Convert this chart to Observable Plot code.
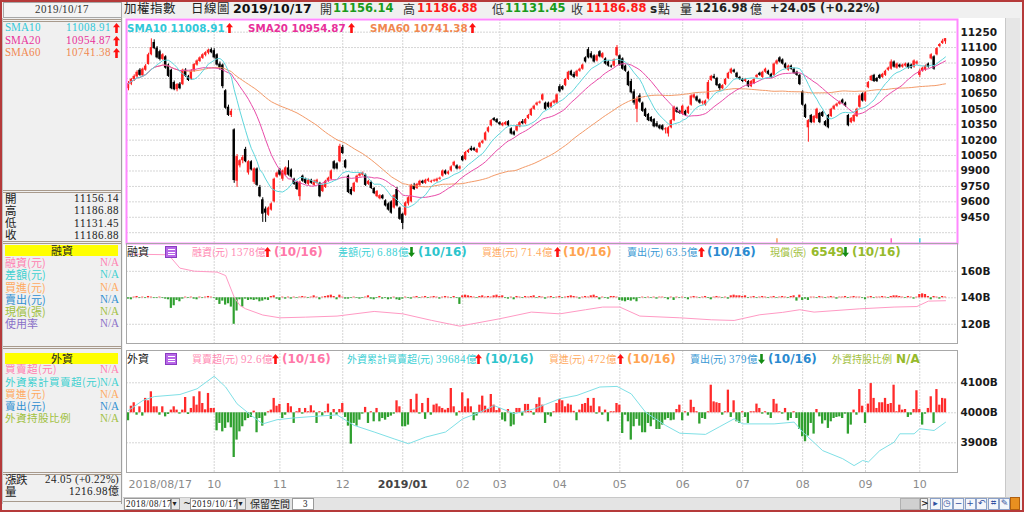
<!DOCTYPE html>
<html><head><meta charset="utf-8">
<script src="https://cdn.jsdelivr.net/npm/d3@7"></script>
<script src="https://cdn.jsdelivr.net/npm/@observablehq/plot@0.6"></script>
<style>
@font-face{font-family:"CJKT";src:local("Noto Sans CJK TC Regular"),local("NotoSansCJKtc-Regular"),local("Noto Sans CJK TC"),local("Noto Sans CJK SC Regular"),local("NotoSansCJKsc-Regular");ascent-override:88%;descent-override:12%;line-gap-override:0%;}
@font-face{font-family:"SERT";src:local("Liberation Serif"),local("LiberationSerif");ascent-override:86%;descent-override:14%;line-gap-override:0%;}
html,body{margin:0;padding:0;background:#f0f0f0;}
#app{position:relative;width:1024px;height:512px;overflow:hidden;background:#f0f0f0;font-family:"DejaVu Sans",sans-serif;}
.t{position:absolute;white-space:nowrap;line-height:1;}
.b{position:absolute;box-sizing:border-box;}
svg{overflow:visible;}
</style></head><body><div id="app"></div><script>
// ---------------- DATA ----------------
// daily candles [open, high, low, close], TAIEX 2018/08/17 - 2019/10/17, grouped by month
const c2018_08_09 = [[10700,10770,10680,10750],[10745,10800,10730,10790],[10790,10835,10770,10820],[10815,10875,10800,10860],[10880,10895,10820,10830],
[10825,10900,10810,10890],[10880,10935,10870,10920],[10935,11045,10930,11030],[11030,11185,11020,11100],[11150,11175,11080,11090],
[11095,11110,10990,11000],[11060,11075,10970,10985],[10985,11040,10975,11030],[11010,11020,10890,10900],[10930,10940,10810,10820],
[10880,10890,10690,10700],[10760,10775,10680,10690],[10690,10750,10670,10740],[10745,10760,10690,10700],[10740,10890,10730,10880],
[10880,10895,10810,10820],[10820,10830,10770,10780],[10790,10885,10780,10870],[10870,10945,10860,10935],[10930,10980,10920,10970],
[10965,11010,10955,11000],[10995,11040,10985,11030],[11025,11060,11010,11050],[11045,11085,11030,11075],[11080,11095,11040,11050]];
const c2018_10 = [[11070,11090,10990,11000],[11030,11040,10920,10930],[10940,10960,10880,10900],[10930,10940,10700,10720],[10680,10690,10500,10510],
[10520,10540,10430,10440],[10440,10500,10420,10480],[10300,10310,9780,9807],[9800,10060,9740,10040],[9950,10010,9930,10000],
[10000,10050,9970,10030],[10110,10130,9980,9990],[9880,10000,9860,9990],[9990,10000,9900,9910],[9790,9930,9770,9920],
[9920,9930,9750,9760],[9740,9760,9640,9650],[9620,9640,9400,9480],[9530,9550,9400,9490],[9470,9550,9460,9540],
[9520,9590,9510,9580],[9600,9830,9590,9820],[9840,9890,9830,9880]];
const c2018_11 = [[9910,9925,9850,9860],[9820,9910,9800,9900],[9860,9940,9850,9930],[9930,10000,9850,9860],[9910,9920,9830,9840],
[9820,9830,9760,9770],[9790,9800,9710,9720],[9650,9800,9610,9790],[9850,9860,9790,9800],[9820,9830,9770,9780],
[9770,9820,9760,9810],[9810,9820,9770,9780],[9760,9810,9750,9800],[9780,9820,9770,9810],[9780,9790,9640,9650],
[9700,9770,9690,9760],[9740,9810,9730,9800],[9800,9840,9790,9830],[9820,9910,9810,9900],[9990,10000,9910,9920],
[9970,9980,9910,9920],[9990,10160,9980,10140]];
const c2018_12 = [[10130,10150,10060,10070],[10000,10010,9920,9930],[9850,9860,9680,9690],[9720,9740,9660,9670],[9700,9790,9690,9780],
[9790,9860,9780,9850],[9850,9880,9840,9870],[9860,9890,9850,9880],[9860,9870,9750,9760],[9770,9810,9760,9800],
[9790,9800,9720,9730],[9730,9740,9670,9680],[9650,9710,9640,9700],[9630,9670,9620,9660],[9660,9670,9620,9630],
[9610,9620,9550,9560],[9580,9590,9510,9520],[9600,9610,9480,9490],[9540,9670,9530,9660],[9720,9740,9550,9560],
[9540,9550,9420,9430]];
const c2019_01 = [[9480,9490,9330,9390],[9470,9600,9460,9590],[9580,9650,9560,9640],[9600,9770,9590,9760],[9760,9780,9710,9720],
[9730,9780,9720,9770],[9760,9810,9750,9800],[9800,9810,9770,9780],[9780,9820,9770,9810],[9800,9830,9790,9820],
[9790,9810,9780,9800],[9800,9820,9790,9810],[9800,9830,9790,9820],[9820,9840,9810,9830],[9850,9910,9840,9900],
[9900,9910,9860,9870],[9870,9900,9860,9890],[9900,9950,9890,9940],[9950,9995,9940,9985],[9950,9960,9910,9920],
[9920,9950,9910,9940]];
const c2019_02 = [[10040,10050,9990,10000],[10010,10090,10000,10080],[10080,10110,10070,10100],[10120,10140,10090,10100],[10120,10130,10090,10100],
[10080,10120,10070,10110],[10130,10180,10120,10170],[10170,10200,10160,10190],[10200,10280,10190,10270],[10280,10330,10270,10320],
[10340,10400,10330,10390],[10410,10420,10380,10390],[10400,10410,10360,10370]];
const c2019_03 = [[10370,10380,10340,10350],[10340,10370,10330,10360],[10350,10380,10340,10370],[10380,10390,10330,10340],[10310,10320,10250,10260],
[10280,10290,10240,10250],[10290,10350,10280,10340],[10330,10380,10320,10370],[10380,10400,10350,10360],[10360,10410,10350,10400],
[10410,10450,10400,10440],[10440,10510,10430,10500],[10500,10540,10490,10530],[10540,10570,10530,10560],[10560,10580,10550,10570],
[10590,10650,10580,10640],[10560,10570,10490,10500],[10560,10570,10510,10520],[10520,10570,10510,10560],[10560,10590,10550,10580],
[10560,10650,10550,10640]];
const c2019_04 = [[10720,10740,10660,10670],[10720,10730,10680,10690],[10730,10800,10720,10790],[10790,10870,10780,10860],[10870,10880,10820,10830],
[10840,10860,10800,10810],[10820,10880,10810,10870],[10870,10900,10860,10890],[10890,10940,10880,10930],[11000,11010,10950,10960],
[11080,11100,10990,11000],[11040,11060,10990,11000],[11020,11030,10950,10960],[10970,11030,10960,11020],[11060,11070,11000,11010],
[11000,11050,10990,11040],[10990,11000,10930,10940],[10960,10970,10910,10920],[10920,10930,10900,10910],[10920,10990,10910,10980],
[11020,11120,11010,11100]];
const c2019_05 = [[11020,11030,10920,10930],[10990,11000,10880,10890],[10920,10930,10860,10870],[10860,10870,10720,10730],[10770,10790,10650,10660],
[10670,10690,10540,10560],[10500,10620,10370,10600],[10630,10650,10560,10570],[10560,10570,10470,10480],[10500,10510,10420,10430],
[10450,10460,10380,10390],[10420,10430,10370,10380],[10400,10410,10320,10330],[10360,10380,10320,10330],[10340,10350,10300,10310],
[10340,10350,10290,10300],[10300,10320,10260,10310],[10260,10330,10230,10320],[10320,10400,10310,10390],[10390,10530,10380,10520],
[10510,10520,10460,10470],[10480,10490,10450,10460]];
const c2019_06 = [[10450,10540,10440,10530],[10480,10490,10430,10440],[10460,10530,10450,10520],[10540,10640,10530,10630],[10610,10650,10600,10640],
[10620,10630,10570,10580],[10590,10600,10550,10560],[10560,10580,10540,10570],[10540,10590,10530,10580],[10600,10780,10590,10760],
[10780,10830,10770,10820],[10820,10840,10790,10800],[10800,10810,10720,10730],[10740,10750,10680,10700],[10700,10740,10690,10730],
[10740,10800,10730,10790],[10800,10860,10790,10850],[10850,10900,10840,10890],[10880,10890,10850,10860],[10850,10860,10800,10810],
[10810,10820,10780,10790]];
const c2019_07 = [[10790,10800,10760,10770],[10770,10800,10760,10790],[10770,10780,10710,10720],[10720,10780,10710,10770],[10750,10800,10740,10790],
[10810,10840,10800,10830],[10850,10860,10820,10830],[10810,10870,10800,10860],[10860,10900,10850,10890],[10870,10880,10830,10840],
[10840,10850,10800,10810],[10830,10950,10820,10940],[10940,10980,10930,10970],[11000,11010,10950,10960],[10980,10990,10930,10940],
[10940,10950,10890,10900],[10880,10930,10870,10920],[10920,10930,10880,10890],[10890,10900,10840,10850],[10860,10870,10820,10830],
[10830,10840,10730,10740]];
const c2019_08 = [[10670,10680,10530,10540],[10540,10550,10410,10420],[10320,10400,10180,10390],[10440,10450,10360,10370],[10370,10440,10360,10430],
[10410,10510,10400,10500],[10460,10470,10360,10370],[10470,10480,10420,10430],[10380,10390,10330,10340],[10440,10450,10310,10320],
[10430,10510,10420,10500],[10500,10540,10490,10530],[10530,10560,10520,10550],[10550,10580,10540,10570],[10590,10600,10550,10560],
[10560,10570,10520,10530],[10440,10450,10330,10340],[10370,10420,10360,10410],[10380,10450,10370,10440],[10430,10510,10420,10500],
[10520,10640,10510,10630],[10650,10660,10570,10580]];
const c2019_09 = [[10580,10670,10570,10660],[10710,10770,10700,10760],[10780,10830,10770,10820],[10830,10840,10760,10770],[10800,10810,10760,10770],
[10830,10840,10790,10800],[10810,10850,10800,10840],[10830,10880,10820,10870],[10880,10910,10870,10900],[10890,10980,10880,10960],
[10960,10970,10900,10910],[10900,10950,10890,10940],[10930,10940,10900,10910],[10910,10940,10900,10930],[10920,10950,10910,10940],
[10940,10950,10890,10900],[10930,10940,10890,10900],[10910,10980,10900,10970],[10940,10970,10930,10960]];
const c2019_10 = [[10830,10890,10810,10870],[10870,10910,10860,10900],[10880,10930,10870,10920],[10940,10950,10900,10910],[10990,11040,10980,11030],
[11010,11020,10880,10890],[11030,11100,11020,11090],[11110,11140,11100,11130],[11140,11180,11130,11162],[11156.14,11186.88,11131.45,11186.88]];

// 融資 daily change (億)
const marginChange = [-2,-3,1,2,-1,1,-1,2,1,-1,-1,1,-1,-2,-3,-16,-12,-4,-6,-2,1,-1,1,-2,-3,1,-1,1,2,1,
-1,-4,-10,-5,-11,-9,-14,-40,-20,-3,-14,-2,-4,-3,-4,-3,-6,-5,-3,-4,2,3,-2,
-4,1,-2,1,-2,1,-1,1,2,1,-1,1,3,1,-3,1,2,3,4,2,-3,4,
1,-2,-2,-1,1,-1,-2,-1,1,3,-2,-3,-1,2,-2,-1,-3,-2,1,-3,-4,
-2,1,-1,-2,1,2,-1,1,2,-1,1,2,1,-2,1,2,1,-1,2,-1,-10,
3,4,3,2,1,-1,2,3,1,2,1,3,4,
2,3,-1,-2,1,-3,2,1,-1,2,1,2,3,-1,2,1,-2,1,2,-1,1,
2,-1,1,2,3,2,1,-2,1,2,1,3,4,2,-3,1,-1,-2,2,2,1,
-4,-5,-6,-4,-5,-3,-6,-1,1,-1,1,-1,1,-2,1,1,-1,-3,1,-4,1,-1,
1,-1,-3,1,2,1,-1,1,2,-1,-3,1,2,1,-1,1,-2,3,4,3,3,
2,3,-1,1,2,-1,1,2,1,-1,1,2,-1,1,2,1,-1,2,3,-5,4,
-4,-2,-4,1,1,-1,2,1,-1,1,2,1,-2,1,1,2,-1,1,2,1,1,-1,
-3,1,2,-1,1,1,2,1,-1,2,3,3,2,1,-1,2,1,-2,1,
5,6,5,2,-3,2,1,-2,2,1];
// 融資餘額 (B) [day index, value]
const marginBalance = [[0,173],[14,172.5],[18,162.4],[23,160.1],[31,159.4],[34,156.8],[37,140.5],[39,134.2],[41,131.7],[47,127],[53,124.9],[62,125.4],[73,126.2],[86,129.7],[96,127.9],[106,123],[116,118.6],[130,124.2],[141,129.2],[151,127.9],[160,131],[166,133],[172,133],[179,126.2],[193,124.9],[204,123.4],[212,122.9],[221,127.2],[229,129],[235,131],[240,129.2],[256,131.7],[268,133],[276,133.4],[280,137.5],[286,137.8]];

// 外資 daily net buy (億)
const foreignNet = [-53,44,67,-16,40,-22,96,80,140,40,40,-16,40,-27,-11,18,40,18,-9,18,102,-11,29,107,51,140,62,20,129,29,
29,-120,-71,-127,-104,-67,-100,-298,-182,-127,-93,-53,-38,-31,11,-133,-38,-89,-22,7,18,96,44,
56,-38,-16,62,40,-71,7,29,-9,29,7,47,12,-71,7,-22,7,58,-44,22,-16,22,
62,-31,-89,-209,-71,-89,-49,-9,36,-71,7,-60,29,-60,-38,-49,-31,-22,-9,80,40,
-93,-93,-82,89,18,124,-9,62,-44,96,-16,51,58,40,29,18,29,162,40,-22,10,
133,40,93,40,-53,-22,51,111,44,22,122,51,15,
29,-49,-60,22,-93,-82,29,29,-22,56,56,10,-16,56,100,51,-71,-16,-27,7,62,
89,80,40,58,51,10,-53,18,56,62,96,44,96,-9,40,-16,18,-60,7,7,62,
51,-138,-16,-60,-182,-93,-44,-89,-133,-133,-71,-93,-49,-111,-111,-82,-49,-38,-53,-49,22,51,
-53,7,-22,84,36,7,-75,-38,-44,7,184,73,67,62,-16,7,151,-31,80,-60,-71,
7,-31,-71,7,7,58,29,-9,7,-16,-38,89,58,7,-9,29,-53,-38,7,-38,-111,
-160,-193,-155,-71,-142,22,-27,-75,-53,-104,-60,-38,-31,-27,-38,-9,-142,-82,18,-16,155,44,
-71,58,195,96,29,67,67,96,56,62,184,7,51,18,22,-31,-16,22,147,
22,-82,-9,29,107,-71,155,51,96,92.6];
// 外資累計買賣超 (B) [day index, value]
const foreignCum = [[0,4008],[5,4041],[9,4054],[18,4061],[24,4080],[30,4122],[34,4086],[38,4030],[43,3991],[47,3963],[52,3977],[58,3983],[65,3988],[73,3993],[79,3958],[86,3936],[93,3913],[98,3897],[104,3919],[111,3936],[117,3980],[123,4002],[128,4024],[135,3997],[142,4013],[146,4028],[151,4047],[157,4058],[165,4086],[171,4088],[176,4063],[181,4002],[188,3958],[193,3932],[202,3928],[207,3954],[212,3980],[215,3963],[226,3963],[233,3969],[236,3936],[243,3874],[250,3847],[254,3824],[257,3841],[259,3836],[263,3874],[268,3902],[270,3930],[275,3930],[277,3947],[282,3941],[286,3968.4]];

// time axis
const monthIdx = [0,30,53,75,96,117,130,151,172,194,215,236,258,277];
const monthLab = ["2018/08/17","10","11","12","2019/01","02","03","04","05","06","07","08","09","10"];
// y ticks
const mainTicks = [9450,9600,9750,9900,10050,10200,10350,10500,10650,10800,10950,11100,11250];
const mainGrid = [9300,9450,9600,9750,9900,10050,10200,10350,10500,10650,10800,10950,11100,11250];
const marginTicks = [120,140,160];
const foreignTicks = [3900,4000,4100];
// signal markers at bottom of price panel
const markers = [{i:227,c:"#f59a5a"},{i:267,c:"#ff60c0"},{i:277,c:"#40d0e0"}];

// ---------------- BUILD ----------------
const app = document.getElementById("app");
const CJK = '"CJKT","Noto Sans CJK TC","Noto Sans CJK SC",sans-serif';
const SER = '"SERT","Liberation Serif","DejaVu Serif","CJKT","Noto Sans CJK TC",serif';
const SANS = '"DejaVu Sans",Verdana,sans-serif';
function B(x,y,w,h,css){const d=document.createElement("div");d.className="b";Object.assign(d.style,{left:x+"px",top:y+"px",width:w+"px",height:h+"px"},css||{});app.appendChild(d);return d;}
function T(x,y,txt,o){o=o||{};const s=document.createElement("span");s.className="t";s.textContent=txt;const size=o.size||11;
 Object.assign(s.style,{left:x+"px",top:(y-size*0.52)+"px",fontSize:size+"px",color:o.color||"#222",fontFamily:o.font||SANS,fontWeight:o.weight||"normal"});
 if(o.anchor==="end")s.style.transform="translateX(-100%)";if(o.anchor==="middle")s.style.transform="translateX(-50%)";app.appendChild(s);return s;}
function dbl(x,y,w){B(x,y,w,1,{background:"#a89a8c"});B(x,y+2,w,1,{background:"#a89a8c"});}
const NS="http://www.w3.org/2000/svg";
function arrow(x,y,upDir,col){const s=document.createElementNS(NS,"svg");s.setAttribute("width","7");s.setAttribute("height","10");
 Object.assign(s.style,{position:"absolute",left:x+"px",top:(y-5)+"px"});
 const p=document.createElementNS(NS,"polygon");
 p.setAttribute("points",upDir?"3.5,0 7,4.2 4.8,4.2 4.8,10 2.2,10 2.2,4.2 0,4.2":"3.5,10 7,5.8 4.8,5.8 4.8,0 2.2,0 2.2,5.8 0,5.8");
 p.setAttribute("fill",col||(upDir?"#ff1010":"#148c14"));s.appendChild(p);app.appendChild(s);}

// backgrounds
B(123,18,882,480,{background:"#ffffff"});
B(1005,18,15,480,{background:"#e6e6e6",borderLeft:"1px solid #c8c8c8"});
B(2,18,120,486,{background:"#f0f0f0",borderRight:"1px solid #a0a0a0",borderLeft:"1px solid #c0c0c0"});

// header
B(3,2,119,16,{background:"#f4f4f4",border:"1px solid #a8a8a8"});
T(62,10,"2019/10/17",{size:11,font:SER,color:"#333",anchor:"middle"});
T(124,9,"加權指數",{size:12.5,font:CJK,color:"#222"});
T(191,9,"日線圖",{size:12.5,font:CJK,color:"#222"});
T(233,9,"2019/10/17",{size:12.5,weight:"bold",color:"#111"});
T(320,9,"開",{size:12,font:CJK,color:"#333"});
T(333,9,"11156.14",{size:11.5,weight:"bold",color:"#1a9a1a"});
T(403,9,"高",{size:12,font:CJK,color:"#333"});
T(417,9,"11186.88",{size:11.5,weight:"bold",color:"#ff1a1a"});
T(492,9,"低",{size:12,font:CJK,color:"#333"});
T(505,9,"11131.45",{size:11.5,weight:"bold",color:"#1a9a1a"});
T(571,9,"收",{size:12,font:CJK,color:"#333"});
T(586,9,"11186.88",{size:11.5,weight:"bold",color:"#ff1a1a"});
T(650,9,"s",{size:12,weight:"bold",color:"#222"});
T(658,9,"點",{size:12,font:CJK,color:"#222"});
T(680,9,"量",{size:12,font:CJK,color:"#222"});
T(695,9,"1216.98",{size:11.5,weight:"bold",color:"#222"});
T(750,9,"億",{size:12,font:CJK,color:"#222"});
T(770,9,"+24.05 (+0.22%)",{size:11.5,weight:"bold",color:"#222"});

// left panel
const LS = 11; // left-panel CJK size
dbl(3,19,118);
[["SMA10","11008.91","#30c8d8",28],["SMA20","10954.87","#e8309a",40.5],["SMA60","10741.38","#f08850",52.5]].forEach(([a,b,c,y])=>{
 T(5,y,a,{size:11,font:SER,color:c});T(111,y,b,{size:11,font:SER,color:c,anchor:"end"});arrow(113,y,true);});
dbl(3,190,118);
[["開","11156.14",198.5],["高","11186.88",211],["低","11131.45",223.3],["收","11186.88",235.3]].forEach(([a,b,y])=>{
 T(5,y,a,{size:11.5,font:CJK,color:"#222"});T(119,y,b,{size:11,font:SER,color:"#222",anchor:"end"});});
dbl(3,241,118);
B(5,245,113,11,{background:"#ffff00"});
T(61.5,250.5,"融資",{size:LS,font:CJK,color:"#222",anchor:"middle"});
[["融資(元)","#ff80b0",263],["差額(元)","#40d0d0",275],["買進(元)","#ffaa60",287.5],["賣出(元)","#2f8fd0",299.7],["現償(張)","#a0c040",311.7],["使用率","#8a70c8",323.5]].forEach(([a,c,y])=>{
 T(5,y,a,{size:LS,font:CJK,color:c});T(119,y,"N/A",{size:11,font:SER,color:c,anchor:"end"});});
dbl(3,346,118);
B(5,353,113,11,{background:"#ffff00"});
T(61.5,358.5,"外資",{size:LS,font:CJK,color:"#222",anchor:"middle"});
[["買賣超(元)","#ff80b0",370],["外資累計買賣超(元)","#40d0d0",382.5],["買進(元)","#ffaa60",395],["賣出(元)","#2f8fd0",407],["外資持股比例","#a0c040",419]].forEach(([a,c,y])=>{
 T(5,y,a,{size:10.6,font:CJK,color:c});T(119,y,"N/A",{size:11,font:SER,color:c,anchor:"end"});});
dbl(3,472,118);
T(5,480,"漲跌",{size:11.5,font:CJK,color:"#222"});T(119,480,"24.05 (+0.22%)",{size:11,font:SER,color:"#222",anchor:"end"});
T(5,492,"量",{size:11.5,font:CJK,color:"#222"});T(119,492,"1216.98億",{size:11,font:SER,color:"#222",anchor:"end"});
B(3,501,118,1,{background:"#a89a8c"});

// ---------------- PLOTS ----------------
const days = [].concat(c2018_08_09,c2018_10,c2018_11,c2018_12,c2019_01,c2019_02,c2019_03,c2019_04,c2019_05,c2019_06,c2019_07,c2019_08,c2019_09,c2019_10)
  .map(([o,h,l,c],i)=>({i,o,h,l,c}));
const up = days.filter(d=>d.c>=d.o), dn = days.filter(d=>d.c<d.o);
const XD = [-0.7, 290.2];
const W = 879, MR = 48;
const baseStyle = {fontFamily:SANS,fontSize:"10.5px",fontWeight:"bold",color:"#1a1a1a",background:"transparent",overflow:"visible"};
const grid = "#d6d6d6";
const vgrid = Plot.ruleX(monthIdx.slice(1),{stroke:grid,strokeDasharray:"2,1"});
const half = 0.42;

const main = Plot.plot({
  width:W,height:224,marginLeft:0,marginRight:MR,marginTop:0,marginBottom:0,
  x:{domain:XD,axis:null},
  y:{domain:[9195,11373],axis:"right",ticks:mainTicks,tickSize:0,tickPadding:3,label:null,tickFormat:d=>String(d)},
  style:baseStyle,
  marks:[
    Plot.ruleY(mainGrid,{stroke:grid,strokeDasharray:"2,1"}),
    vgrid,
    Plot.ruleX(dn,{x:"i",y1:"l",y2:"h",stroke:"#000"}),
    Plot.ruleX(up,{x:"i",y1:"l",y2:"h",stroke:"#ff2020"}),
    Plot.rect(dn,{x1:d=>d.i-half,x2:d=>d.i+half,y1:"o",y2:"c",fill:"#000"}),
    Plot.rect(up,{x1:d=>d.i-half,x2:d=>d.i+half,y1:"o",y2:"c",fill:"#ff2020"}),
    Plot.lineY(days,Plot.windowY({k:60,anchor:"end",strict:false},{x:"i",y:"c",stroke:"#f39a68",strokeWidth:1})),
    Plot.lineY(days,Plot.windowY({k:20,anchor:"end",strict:false},{x:"i",y:"c",stroke:"#e84aa8",strokeWidth:1})),
    Plot.lineY(days,Plot.windowY({k:10,anchor:"end",strict:false},{x:"i",y:"c",stroke:"#5fd6dc",strokeWidth:1})),
    Plot.ruleX(markers,{x:"i",stroke:"c",y1:9195,y2:9240,strokeWidth:1.5}),
    Plot.frame({stroke:"#ff88ff",strokeWidth:2})
  ]
});
Object.assign(main.style,{position:"absolute",left:"126px",top:"19px"});
app.appendChild(main);

const mRows = marginChange.map((v,i)=>({i,v}));
const MK = 0.5; // 億 -> B display factor
const margin = Plot.plot({
  width:W,height:100,marginLeft:0,marginRight:MR,marginTop:0,marginBottom:0,
  x:{domain:XD,axis:null},
  y:{domain:[105.5,181],axis:"right",ticks:marginTicks,tickSize:0,tickPadding:3,label:null,tickFormat:d=>d+"B"},
  style:baseStyle,
  marks:[
    Plot.ruleY(marginTicks,{stroke:grid,strokeDasharray:"2,1"}),
    vgrid,
    Plot.rect(mRows.filter(d=>d.v>=0),{x1:d=>d.i-0.38,x2:d=>d.i+0.38,y1:140,y2:d=>140+d.v*MK,fill:"#ff2a2a"}),
    Plot.rect(mRows.filter(d=>d.v<0),{x1:d=>d.i-0.38,x2:d=>d.i+0.38,y1:140,y2:d=>140+d.v*MK,fill:"#2fa02f"}),
    Plot.line(marginBalance,{x:d=>d[0],y:d=>d[1],stroke:"#ff9ac4",strokeWidth:1}),
    Plot.frame({stroke:"#a8a8a8"})
  ]
});
Object.assign(margin.style,{position:"absolute",left:"126px",top:"243px"});
app.appendChild(margin);

const fRows = foreignNet.map((v,i)=>({i,v}));
const FK = 0.5;
const months = monthIdx.map((i,k)=>({i,t:monthLab[k]}));
const foreign = Plot.plot({
  width:W,height:147,marginLeft:0,marginRight:MR,marginTop:0,marginBottom:25,
  x:{domain:XD,axis:null},
  y:{domain:[3801,4207.7],axis:"right",ticks:foreignTicks,tickSize:0,tickPadding:3,label:null,tickFormat:d=>d+"B"},
  style:baseStyle,
  marks:[
    Plot.ruleY(foreignTicks,{stroke:grid,strokeDasharray:"2,1"}),
    vgrid,
    Plot.rect(fRows.filter(d=>d.v>=0),{x1:d=>d.i-0.4,x2:d=>d.i+0.4,y1:4000,y2:d=>4000+d.v*FK,fill:"#ff2a2a"}),
    Plot.rect(fRows.filter(d=>d.v<0),{x1:d=>d.i-0.4,x2:d=>d.i+0.4,y1:4000,y2:d=>4000+d.v*FK,fill:"#2fa02f"}),
    Plot.line(foreignCum,{x:d=>d[0],y:d=>d[1],stroke:"#7fe0e6",strokeWidth:1}),
    Plot.frame({stroke:"#a8a8a8"}),
    Plot.text(months.slice(0,1),{x:"i",text:"t",frameAnchor:"bottom",dy:15,textAnchor:"start",fill:"#8a8a8a",fontWeight:"normal",fontSize:11}),
    Plot.text(months.filter(d=>d.t!=="2019/01"&&d.i>0),{x:"i",text:"t",frameAnchor:"bottom",dy:15,fill:"#8a8a8a",fontWeight:"normal",fontSize:11}),
    Plot.text(months.filter(d=>d.t==="2019/01"),{x:"i",text:"t",frameAnchor:"bottom",dy:15,fill:"#444",fontWeight:"bold",fontSize:11})
  ]
});
Object.assign(foreign.style,{position:"absolute",left:"126px",top:"350px"});
app.appendChild(foreign);

// ---------------- overlays: legends ----------------
T(127,28,"SMA10 11008.91",{size:10.3,weight:"bold",color:"#30c8d8"});arrow(226,28,true);
T(248,28,"SMA20 10954.87",{size:10.3,weight:"bold",color:"#e8309a"});arrow(348,28,true);
T(370,28,"SMA60 10741.38",{size:10.3,weight:"bold",color:"#f08850"});arrow(469,28,true);

function icon(x,y){B(x,y,12,12,{background:"#b868e8",border:"1px solid #8a3cc0"});
 for(let k=0;k<3;k++)B(x+3,y+3+k*2.5,7,1,{background:"#fff"});}
// label (CJK) followed by value (serif) in one span
function LV(x,y,label,value,c){const s=T(x,y,label,{size:10,font:CJK,color:c});
 if(value){const v=document.createElement("span");v.textContent=" "+value;Object.assign(v.style,{fontFamily:SER,fontSize:"10.6px"});s.appendChild(v);}return s;}
function BD(x,y,s,c){return T(x,y,s,{size:12,weight:"bold",color:c});}
const PK="#ff8ab4",CY="#3ccfd4",OR="#ffaa60",BL="#3a98d4",YG="#a2c040";
// 融資 legend
T(127,252,"融資",{size:11,font:CJK,color:"#222"});icon(165,246);
LV(192,252,"融資(元)","1378億",PK);arrow(264,252,true);BD(274,252,"(10/16)","#ff78a8");
LV(338,252,"差額(元)","6.88億",CY);arrow(408,252,false);BD(418,252,"(10/16)","#2cc4cc");
LV(482,252,"買進(元)","71.4億",OR);arrow(554,252,true);BD(563,252,"(10/16)","#ffa450");
LV(627,252,"賣出(元)","63.5億",BL);arrow(698,252,true);BD(707,252,"(10/16)","#2a8ad0");
LV(770,252,"現償(張)","",YG);BD(811,252,"6549","#96ba2c");arrow(842,252,false);BD(852,252,"(10/16)","#96ba2c");
// 外資 legend
T(127,359,"外資",{size:11,font:CJK,color:"#222"});icon(165,353);
LV(192,359,"買賣超(元)","92.6億",PK);arrow(272,359,true);BD(282,359,"(10/16)","#ff78a8");
LV(347,359,"外資累計買賣超(元)","39684億",CY);arrow(475,359,true);BD(485,359,"(10/16)","#2cc4cc");
LV(549,359,"買進(元)","472億",OR);arrow(617,359,true);BD(627,359,"(10/16)","#ffa450");
LV(690,359,"賣出(元)","379億",BL);arrow(758,359,false);BD(768,359,"(10/16)","#2a8ad0");
LV(832,359,"外資持股比例","",YG);BD(896,359,"N/A","#96ba2c");

// bottom toolbar
B(123,497,897,14,{background:"#e4e4e4",borderTop:"1px solid #c8c8c8"});
B(124,498,47,12,{background:"#fff",border:"1px solid #9a9a9a"});T(126,504,"2018/08/17",{size:8.5,font:SER,color:"#222"});
B(171,498,9,12,{background:"#e8e8e8",border:"1px solid #9a9a9a"});T(172.5,504,"▾",{size:8,color:"#222"});
T(183,504,"~",{size:10,color:"#222"});
B(190,498,47,12,{background:"#fff",border:"1px solid #9a9a9a"});T(192,504,"2019/10/17",{size:8.5,font:SER,color:"#222"});
B(237,498,9,12,{background:"#e8e8e8",border:"1px solid #9a9a9a"});T(238.5,504,"▾",{size:8,color:"#222"});
T(250,504,"保留空間",{size:10,font:CJK,color:"#222"});
B(292,498,22,12,{background:"#fff",border:"1px solid #9a9a9a"});T(303,504,"3",{size:9,font:SER,color:"#222"});
B(900,498,20,12,{background:"#d0d0d0",border:"1px solid #b0b0b0"});
B(920,498,8,12,{background:"#f4f4f4",border:"1px solid #909090"});T(921,504,">",{size:9,weight:"bold",color:"#222"});
["▸","◷","−","+","↶","⌗","✎"].forEach((s,k)=>{B(930+k*11.5,498,11,12,{background:"#f4f6fa",border:"1px solid #8aa0c8"});T(935.5+k*11.5,504,s,{size:9,color:"#3050a0",anchor:"middle"});});
B(1010,497,10,13,{background:"#e89020",border:"1px solid #b06010"});

// outer border
B(0,0,1024,512,{border:"2px solid #b53a3a",background:"transparent",pointerEvents:"none"});
</script></body></html>
